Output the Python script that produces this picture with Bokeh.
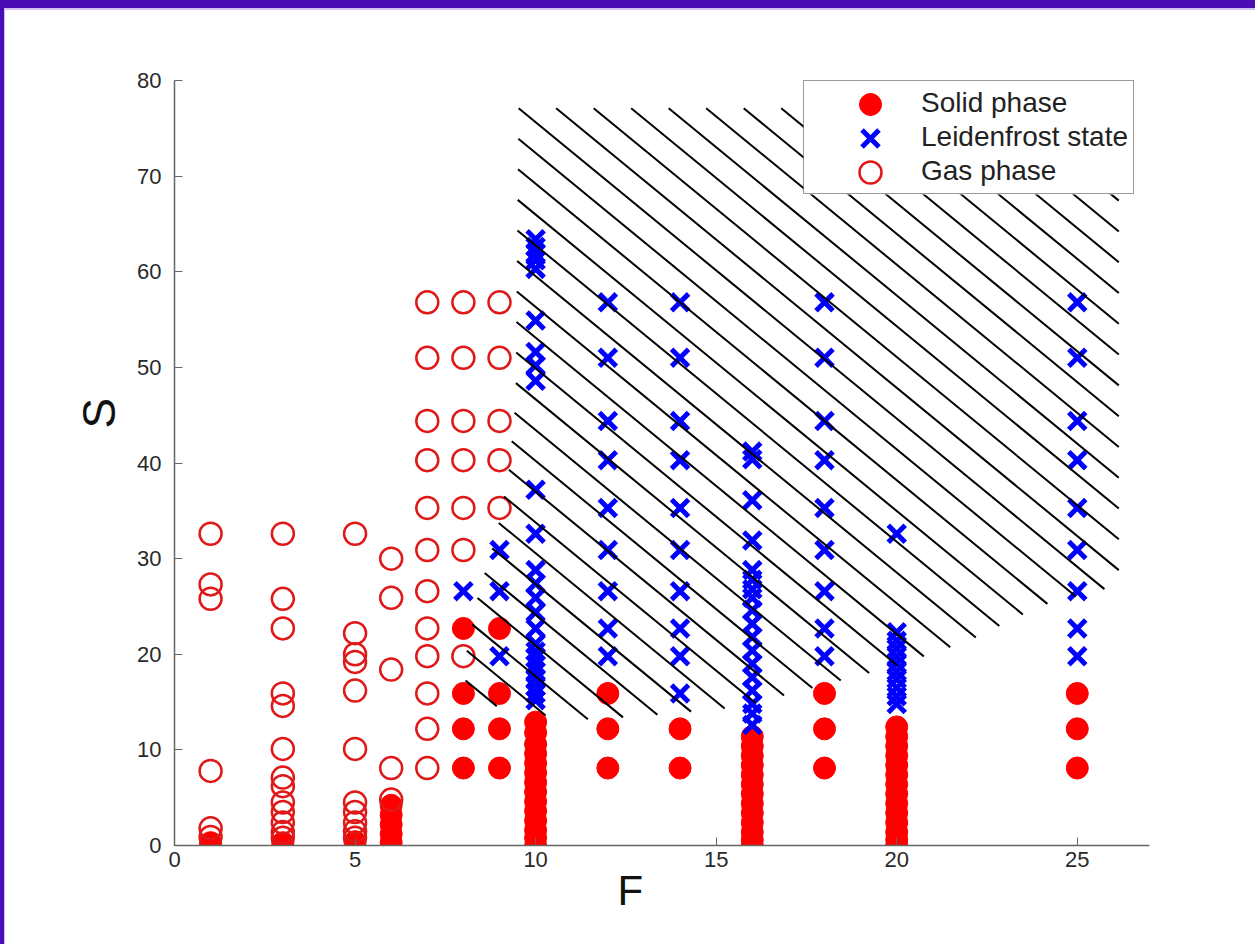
import numpy as np
from bokeh.plotting import figure
from bokeh.models import Range1d, FixedTicker, Title, Legend, LegendItem
from bokeh.embed import file_html
from bokeh.resources import INLINE

# ---------------- data ----------------
solid_cols = [1, 3, 5, 6, 8, 9, 10, 12, 14, 16, 18, 20, 25]
solid_vals = [
    [0.3, 0.0],
    [0.3, 0.0],
    [0.4, 0.0],
    [4.2, 3.2, 2.2, 1.2, 0.3],
    [22.7, 15.9, 12.2, 8.1],
    [22.7, 15.9, 12.2, 8.1],
    [12.9, 11.8, 10.6, 9.6, 8.6, 7.6, 6.6, 5.6, 4.6, 3.6, 2.6, 1.6, 0.8, 0.0],
    [15.9, 12.2, 8.1],
    [12.2, 8.1],
    [11.4, 10.4, 9.4, 8.4, 7.4, 6.4, 5.4, 4.4, 3.4, 2.4, 1.4, 0.6, 0.0],
    [15.9, 12.2, 8.1],
    [12.4, 11.4, 10.4, 9.4, 8.4, 7.4, 6.4, 5.4, 4.4, 3.4, 2.4, 1.4, 0.6, 0.0],
    [15.9, 12.2, 8.1],
]

leid_cols = [8, 9, 10, 12, 14, 16, 18, 20, 25]
leid_vals = [
    [26.6],
    [30.9, 26.6, 19.8],
    [63.4, 62.6, 61.9, 61.2, 60.3, 54.9, 51.6, 50.2, 48.6, 37.2, 32.6, 28.8,
     27.4, 25.9, 24.4, 22.7, 21.1, 20.3, 19.6, 18.9, 18.2, 17.4, 16.6, 15.9, 15.2],
    [56.8, 51.0, 44.4, 40.3, 35.3, 30.9, 26.6, 22.7, 19.8],
    [56.8, 51.0, 44.4, 40.3, 35.3, 30.9, 26.6, 22.7, 19.8, 15.9],
    [41.2, 40.4, 36.1, 31.9, 28.8, 27.8, 26.8, 25.9, 24.6, 23.2, 21.8, 20.4,
     19.0, 17.6, 16.2, 14.8, 13.8, 12.6],
    [56.8, 51.0, 44.4, 40.3, 35.3, 30.9, 26.6, 22.7, 19.8],
    [32.6, 22.3, 21.4, 20.6, 19.8, 19.0, 18.2, 17.4, 16.5, 15.6, 14.8],
    [56.8, 51.0, 44.4, 40.3, 35.3, 30.9, 26.6, 22.7, 19.8],
]

gas_cols = [1, 3, 5, 6, 7, 8, 9]
gas_vals = [
    [32.6, 27.3, 25.8, 7.8, 1.8, 0.9],
    [32.6, 25.8, 22.7, 15.9, 14.6, 10.1, 7.1, 6.2, 4.5, 3.5, 2.4, 1.4, 0.8],
    [32.6, 22.2, 20.0, 19.2, 16.2, 10.1, 4.5, 3.5, 2.4, 1.5, 0.8],
    [30.0, 25.9, 18.4, 8.1, 4.8],
    [56.8, 51.0, 44.4, 40.3, 35.3, 30.9, 26.6, 22.7, 19.8, 15.9, 12.2, 8.1],
    [56.8, 51.0, 44.4, 40.3, 35.3, 30.9, 19.8],
    [56.8, 51.0, 44.4, 40.3, 35.3],
]

legend_labels = ["Solid phase", "Leidenfrost state", "Gas phase"]

# hatched region (F, S) outline
region_F = [9.53, 26.15, 26.15, 24.0, 22.0, 20.0, 18.45, 15.7, 12.9, 10.97,
            8.06, 8.06, 8.42, 8.92, 9.25, 9.45]
region_S = [77.1, 77.1, 27.2, 25.1, 21.4, 18.8, 17.25, 14.5, 13.5, 13.1,
            15.2, 19.7, 26.4, 32.6, 38.9, 46.5]

x_ticks = [0, 5, 10, 15, 20, 25]
y_ticks = [0, 10, 20, 30, 40, 50, 60, 70, 80]
X_MAX, Y_MAX = 27, 80


def expand(cols, vals):
    xs, ys = [], []
    for c, v in zip(cols, vals):
        xs += [c] * len(v)
        ys += list(v)
    return xs, ys


sF, sS = expand(solid_cols, solid_vals)
lF, lS = expand(leid_cols, leid_vals)
gF, gS = expand(gas_cols, gas_vals)

# ---------------- hatch lines clipped to region ----------------
slope = 3.1      # S units per F unit
step = 3.22      # spacing of line intercepts
PF = np.array(region_F)
PS = np.array(region_S)
g_all = PS + slope * PF
k0 = g_all[0]
ks = k0 + step * np.arange(np.floor((g_all.min() - k0) / step),
                           np.ceil((g_all.max() - k0) / step) + 1)
x0s, y0s, x1s, y1s = [], [], [], []
n = len(PF)
for k in ks:
    hits = []
    for i in range(n):
        a, b = i, (i + 1) % n
        ga = g_all[a] - k
        gb = g_all[b] - k
        if (ga > 0) != (gb > 0):
            t = ga / (ga - gb)
            hits.append(PF[a] + t * (PF[b] - PF[a]))
    hits.sort()
    for j in range(0, len(hits) - 1, 2):
        fa, fb = hits[j], hits[j + 1]
        x0s.append(fa); y0s.append(k - slope * fa)
        x1s.append(fb); y1s.append(k - slope * fb)

# ---------------- figure ----------------
FONT = "Liberation Sans"
W, H = 1255, 944
ML, MR, MT, MB = 174, 106, 80, 99
FW, FH = W - ML - MR, H - MT - MB

p = figure(width=W, height=H, output_backend="svg", toolbar_location=None,
           x_range=Range1d(0, X_MAX), y_range=Range1d(0, Y_MAX),
           min_border_left=ML, min_border_right=MR,
           min_border_top=MT, min_border_bottom=MB)
p.styles = {"background-color": "white",
            "box-shadow": "inset 4px 8px 0 0 #4a0cb4, inset 5px 10px 0 0 #d4bff2"}
p.background_fill_color = "white"
p.border_fill_color = None
p.outline_line_color = None
p.xgrid.visible = False
p.ygrid.visible = False

STY_SOLID = dict(marker="circle", size=22, fill_color="#ff0000",
                 line_color="#ff0000", line_width=1)
STY_LEID = dict(marker="x", size=24, line_color="#0000ff", line_width=5)
STY_GAS = dict(marker="circle", size=22, fill_color=None,
               line_color="#e01818", line_width=2.5)

p.scatter(sF, sS, **STY_SOLID)
p.scatter(lF, lS, **STY_LEID)
p.scatter(gF, gS, **STY_GAS)

p.segment(x0s, y0s, x1s, y1s, line_color="black", line_width=2)

for ax in (p.xaxis[0], p.yaxis[0]):
    ax.axis_line_color = "#666666"
    ax.axis_line_width = 1.5
    ax.major_tick_line_color = "#666666"
    ax.major_tick_in = 8
    ax.major_tick_out = 0
    ax.minor_tick_line_color = None
    ax.major_label_text_font = FONT
    ax.major_label_text_font_size = "22px"
    ax.major_label_text_color = "#2a2a2a"

p.xaxis.ticker = FixedTicker(ticks=x_ticks)
p.yaxis.ticker = FixedTicker(ticks=y_ticks)
p.xaxis.major_label_standoff = 6
p.yaxis.major_label_standoff = 13

# axis titles (placed along the axis like the original)
tF = Title(text="F", align="left", offset=443, text_font=FONT,
           text_font_size="42px", text_font_style="normal",
           text_color="#111111", standoff=-10)
p.add_layout(tF, "below")
tS = Title(text="S", align="left", offset=417, text_font=FONT,
           text_font_size="46px", text_font_style="normal",
           text_color="#111111", standoff=20)
p.add_layout(tS, "left")

# ---------------- legend ----------------
LG_LEFT, LG_TOP = 629, 2          # px, relative to frame left / top
LG_PAD, LG_ROW, LG_GLYPH_W = 5, 34, 112
lg_h = 2 * LG_PAD + 3 * LG_ROW

# white backing for the legend box (covers hatch lines), then big markers
p.quad(left=[LG_LEFT / FW * X_MAX], right=[X_MAX],
       bottom=[(FH - LG_TOP - lg_h) / FH * Y_MAX], top=[Y_MAX],
       fill_color="white", line_color=None)
mk_F = (LG_LEFT + 67) / FW * X_MAX
mk_S = [(FH - (LG_TOP + LG_PAD + LG_ROW * (i + 0.5))) / FH * Y_MAX for i in range(3)]
for i, sty in enumerate((STY_SOLID, STY_LEID, STY_GAS)):
    p.scatter([mk_F], [mk_S[i]], **sty)

dummies = []
for sty in (STY_SOLID, STY_LEID, STY_GAS):
    d = dict(sty)
    d.update(fill_alpha=0, line_alpha=0)
    dummies.append(p.scatter([-10], [-10], **d))
items = [LegendItem(label=lab, renderers=[r]) for lab, r in zip(legend_labels, dummies)]
lg = Legend(items=items, location=(LG_LEFT, FH - LG_TOP - lg_h), margin=0,
            padding=LG_PAD, spacing=0, glyph_height=LG_ROW, label_height=LG_ROW,
            glyph_width=LG_GLYPH_W, label_standoff=0,
            label_text_font=FONT, label_text_font_size="28px",
            label_text_color="#222222", border_line_color="#333333",
            border_line_width=1.5, background_fill_alpha=0.0)
p.add_layout(lg, "center")

open("out.html", "w").write(file_html(p, INLINE))
